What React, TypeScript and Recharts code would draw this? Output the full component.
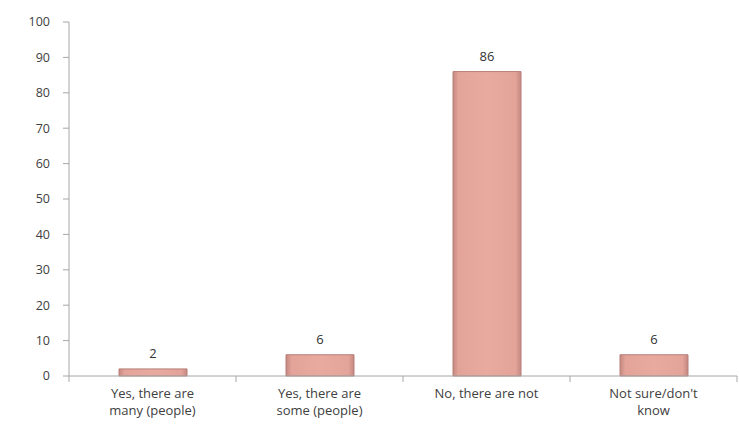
import React from 'react';
import { BarChart, Bar, XAxis, YAxis, LabelList } from 'recharts';

const categories = [
  'Yes, there are many (people)',
  'Yes, there are some (people)',
  'No, there are not',
  "Not sure/don't know",
];
const categoryLines = [
  ['Yes, there are', 'many (people)'],
  ['Yes, there are', 'some (people)'],
  ['No, there are not'],
  ["Not sure/don't", 'know'],
];
const percentValues = [2, 6, 86, 6];
const yTicks = [0, 10, 20, 30, 40, 50, 60, 70, 80, 90, 100];

const data = categories.map((name, i) => ({ name, value: percentValues[i], idx: i }));

const FONT = '"Open Sans", "Noto Sans", sans-serif';
const AXIS = '#a6a6a6';

const CategoryTick = (props: any) => {
  const { x, y, payload, index } = props;
  const band = 668 / categories.length;
  const lines = categoryLines[index] || [payload.value];
  return (
    <g>
      <line x1={x - band / 2} x2={x - band / 2} y1={y - 8} y2={y - 2} stroke={AXIS} />
      {index === categories.length - 1 && (
        <line x1={x + band / 2} x2={x + band / 2} y1={y - 8} y2={y - 2} stroke={AXIS} />
      )}
      {lines.map((t: string, i: number) => (
        <text
          key={i}
          x={x}
          y={y + 14 + i * 17}
          textAnchor="middle"
          fill="#404040"
          fontSize={13}
          fontFamily={FONT}
        >
          {t}
        </text>
      ))}
    </g>
  );
};

export default function App() {
  return (
    <div style={{ position: 'absolute', left: 0, top: 0, width: 739, height: 441, background: '#fff' }}>
      <BarChart
        width={739}
        height={441}
        data={data}
        margin={{ top: 22, right: 2, left: 0, bottom: 35 }}
        barCategoryGap="20%"
      >
        <defs>
          <linearGradient id="barGrad" x1="0" y1="0" x2="1" y2="0">
            <stop offset="0" stopColor="#c48880" />
            <stop offset="0.08" stopColor="#e3a399" />
            <stop offset="0.5" stopColor="#e8aa9f" />
            <stop offset="0.92" stopColor="#e3a399" />
            <stop offset="1" stopColor="#c48880" />
          </linearGradient>
        </defs>
        <XAxis
          dataKey="name"
          axisLine={{ stroke: AXIS }}
          tickLine={false}
          interval={0}
          tick={<CategoryTick />}
        />
        <YAxis
          width={69}
          domain={[0, 100]}
          ticks={yTicks}
          interval={0}
          axisLine={{ stroke: AXIS }}
          tickLine={{ stroke: AXIS }}
          tickSize={6}
          tickMargin={13}
          tick={{ fill: '#404040', fontSize: 12.5, fontFamily: FONT }}
        />
        <Bar
          dataKey="value"
          fill="url(#barGrad)"
          stroke="#b87f78"
          strokeWidth={1}
          barSize={68}
          isAnimationActive={false}
        >
          <LabelList
            dataKey="value"
            position="top"
            offset={11}
            fill="#333"
            fontSize={13}
            fontFamily={FONT}
          />
        </Bar>
      </BarChart>
    </div>
  );
}
